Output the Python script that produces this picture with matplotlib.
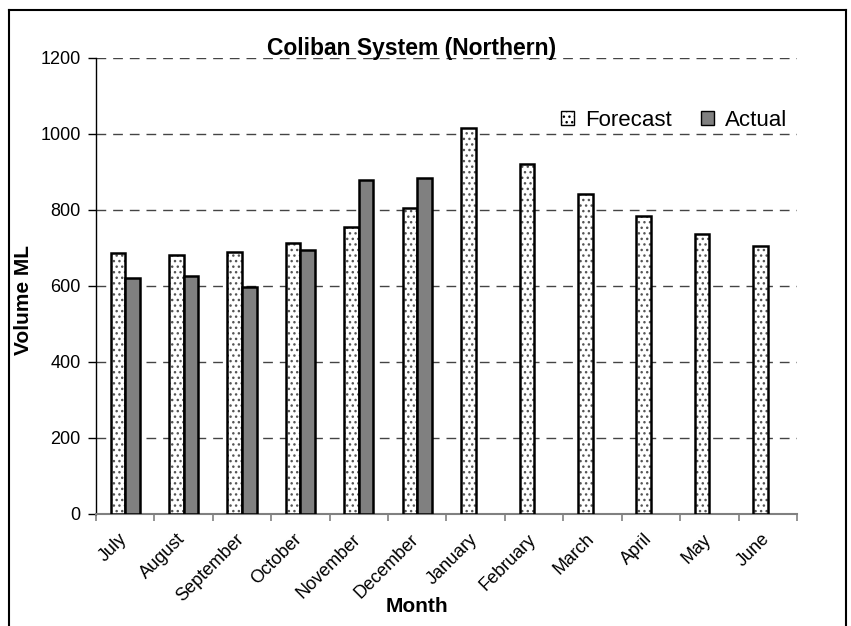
import numpy as np
import matplotlib
matplotlib.use('Agg')
import matplotlib.pyplot as plt
import matplotlib.transforms as mtransforms
from matplotlib.lines import Line2D

plt.rcParams['font.family'] = ['Liberation Sans', 'DejaVu Sans']

months = ['July', 'August', 'September', 'October', 'November', 'December',
          'January', 'February', 'March', 'April', 'May', 'June']
forecast = [687, 682, 690, 713, 755, 805, 1016, 921, 842, 784, 737, 705]
actual = [621, 626, 597, 695, 879, 884]

fig = plt.figure(figsize=(8.51, 6.26), dpi=100)
ax = fig.add_axes([96/851, 1-514/626, 701/851, 456/626])

x = np.arange(len(months))
w = 0.25
# dotted fill first, then black outline on top
ax.bar(x - w/2, forecast, w, color='white', edgecolor='#555555', hatch='...', linewidth=0, zorder=3)
ax.bar(x - w/2, forecast, w, facecolor='none', edgecolor='black', linewidth=1.8, zorder=4)
xa = np.arange(len(actual))
ax.bar(xa + w/2, actual, w, color='#808080', edgecolor='black', linewidth=1.8, zorder=4)

ax.set_xlim(-0.5, 11.5)
ax.set_ylim(0, 1200)
ax.set_yticks(range(0, 1201, 200))
ax.yaxis.grid(True, linestyle=(0, (7, 5)), color='#444444', linewidth=1)
ax.set_axisbelow(True)

ax.set_xticks(x)
ax.set_xticklabels(months, rotation=45, ha='right', rotation_mode='anchor', fontsize=13)
ax.tick_params(axis='x', which='major', length=0, pad=12)
shift = mtransforms.ScaledTranslation(-7/100, 0, fig.dpi_scale_trans)
for lab in ax.get_xticklabels():
    lab.set_transform(lab.get_transform() + shift)
ax.set_xticks(np.arange(-0.5, 12, 1), minor=True)
ax.tick_params(axis='x', which='minor', length=5, color='#808080', width=1.2)
ax.tick_params(axis='y', labelsize=13, length=6, width=1, pad=5)

for s in ['top', 'right']:
    ax.spines[s].set_visible(False)
ax.spines['left'].set_linewidth(1)
ax.spines['bottom'].set_color('#808080')
ax.spines['bottom'].set_linewidth(1.5)

ax.set_ylabel('Volume ML', fontsize=15, fontweight='bold')
ax.yaxis.set_label_coords((33-96)/701, (514-300)/456)
fig.text(417/851, 1-607/626, 'Month', fontsize=15, fontweight='bold', ha='center', va='center')
fig.text(412/851, 1-49/626, 'Coliban System (Northern)', fontsize=16.5, fontweight='bold', ha='center', va='center')

h1 = plt.Rectangle((0, 0), 1, 1, facecolor='white', edgecolor='black', hatch='...', linewidth=1)
h2 = plt.Rectangle((0, 0), 1, 1, facecolor='#808080', edgecolor='black', linewidth=1)
ax.legend([h1, h2], ['Forecast', 'Actual'], ncol=2, frameon=False, fontsize=16,
          loc='center', bbox_to_anchor=(674/851, 1-120/626), bbox_transform=fig.transFigure,
          handlelength=0.6, handleheight=0.6, handletextpad=0.5, columnspacing=1.3)

# outer frame
fig.add_artist(Line2D([9/851, 9/851], [0, 1-10/626], transform=fig.transFigure, color='black', lw=1.5))
fig.add_artist(Line2D([9/851, 846/851], [1-10/626, 1-10/626], transform=fig.transFigure, color='black', lw=1.5))
fig.add_artist(Line2D([846/851, 846/851], [0, 1-10/626], transform=fig.transFigure, color='black', lw=1.5))

fig.savefig('out.png', dpi=100)
